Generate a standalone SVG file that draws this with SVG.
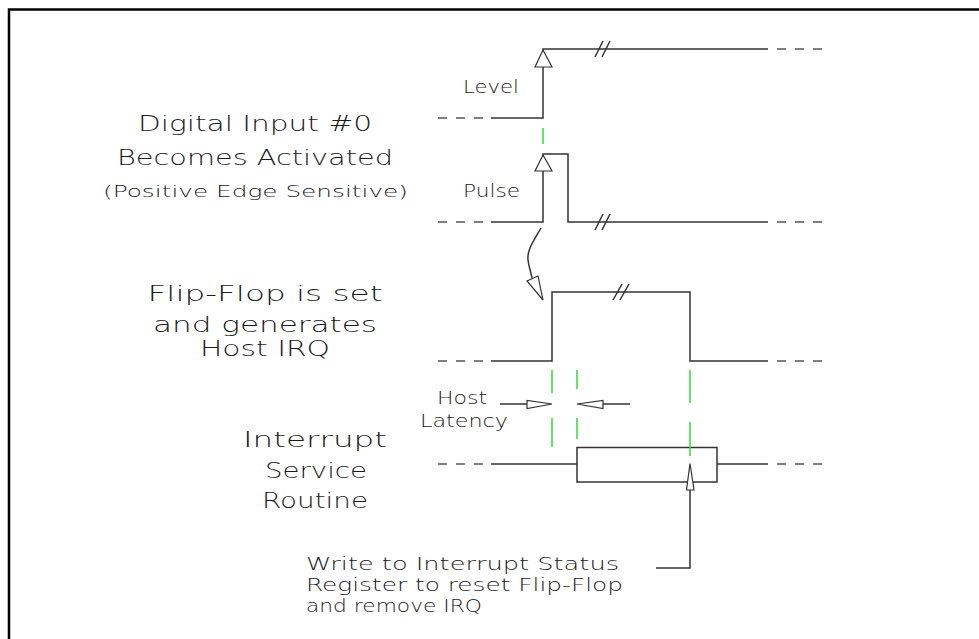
<svg xmlns="http://www.w3.org/2000/svg" width="979" height="639" viewBox="0 0 979 639">
<style>
.w{fill:none;stroke:#333;stroke-width:1.5;stroke-linejoin:miter}
.d{fill:none;stroke:#555;stroke-width:1.5;stroke-dasharray:9 9}
.g{fill:none;stroke:#33dd33;stroke-width:1.5}
.tri{fill:#fff;stroke:#333;stroke-width:1.2}
.t{font-family:"DejaVu Sans","Liberation Sans",sans-serif;font-weight:200;fill:#1a1a1a}
</style>
<rect width="979" height="639" fill="#fff"/>
<path id="border" d="M9,639 V9.5 H979" fill="none" stroke="#000" stroke-width="2.5"/>

<g id="level-wave">
<line class="d" x1="438" y1="118" x2="483" y2="118"/>
<path class="w" d="M491,118 H543 V49 H768"/>
<line class="d" x1="777" y1="49" x2="822" y2="49"/>
<path class="w" d="M595,57 L603,41 M602,57 L610,41"/>
<polygon class="tri" points="543,50 535,67 552,67"/>
</g>

<g id="pulse-wave">
<line class="d" x1="438" y1="222" x2="483" y2="222"/>
<path class="w" d="M491,222 H543 V154 H568 V222 H768"/>
<line class="d" x1="777" y1="222" x2="822" y2="222"/>
<path class="w" d="M595,230 L603,214 M602,230 L610,214"/>
<polygon class="tri" points="543,155 535,171 552,171"/>
</g>

<g id="flipflop-wave">
<line class="d" x1="438" y1="361" x2="483" y2="361"/>
<path class="w" d="M491,361 H552 V292 H690 V361 H768"/>
<line class="d" x1="777" y1="361" x2="822" y2="361"/>
<path class="w" d="M613,300 L622,284 M620,300 L629,284"/>
</g>

<g id="isr-wave">
<line class="d" x1="438" y1="464" x2="483" y2="464"/>
<path class="w" d="M491,464 H577 M717,464 H768"/>
<rect class="w" x="577" y="447.5" width="140" height="34.5"/>
<line class="d" x1="777" y1="464" x2="822" y2="464"/>
</g>

<g id="guides">
<line class="g" x1="543" y1="128" x2="543" y2="144"/>
<path class="g" d="M552,370 V393 M552,418 V447"/>
<path class="g" d="M577,370 V389 M577,418 V439"/>
<path class="g" d="M690,370 V403 M690,422 V456"/>
</g>

<g id="connectors">
<path class="w" d="M541,228 C533,242 527,250 528,260 C529,268 531,272 532,278"/>
<polygon class="tri" points="543,300 527,281 538,276"/>
<line class="w" x1="500" y1="404" x2="527" y2="404"/>
<polygon class="tri" points="527,400.5 527,408.5 552,404"/>
<line class="w" x1="603" y1="404" x2="630" y2="404"/>
<polygon class="tri" points="603,400.5 603,408.5 577,404"/>
<path class="w" d="M656,568 H690 V490"/>
<polygon class="tri" points="690,463.5 686.5,490 694,490"/>
</g>

<g id="label-digital-input">
<text class="t" x="255" y="131" font-size="21" text-anchor="middle" textLength="234" lengthAdjust="spacingAndGlyphs">Digital Input #0</text>
<text class="t" x="255" y="165" font-size="21" text-anchor="middle" textLength="276" lengthAdjust="spacingAndGlyphs">Becomes Activated</text>
<text class="t" x="255.5" y="197" font-size="16" text-anchor="middle" textLength="305" lengthAdjust="spacingAndGlyphs">(Positive Edge Sensitive)</text>
</g>
<g id="label-level"><text class="t" x="463" y="93" font-size="18" textLength="56" lengthAdjust="spacingAndGlyphs">Level</text></g>
<g id="label-pulse"><text class="t" x="463" y="197" font-size="18" textLength="57" lengthAdjust="spacingAndGlyphs">Pulse</text></g>
<g id="label-flipflop">
<text class="t" x="265" y="301" font-size="22" text-anchor="middle" textLength="235" lengthAdjust="spacingAndGlyphs">Flip-Flop is set</text>
<text class="t" x="265" y="332" font-size="22" text-anchor="middle" textLength="224" lengthAdjust="spacingAndGlyphs">and generates</text>
<text class="t" x="265" y="356" font-size="22" text-anchor="middle" textLength="130" lengthAdjust="spacingAndGlyphs">Host IRQ</text>
</g>
<g id="label-host-latency">
<text class="t" x="437" y="404" font-size="18" textLength="50" lengthAdjust="spacingAndGlyphs">Host</text>
<text class="t" x="420" y="427" font-size="18" textLength="88" lengthAdjust="spacingAndGlyphs">Latency</text>
</g>
<g id="label-isr">
<text class="t" x="315" y="447" font-size="22" text-anchor="middle" textLength="144" lengthAdjust="spacingAndGlyphs">Interrupt</text>
<text class="t" x="316" y="478" font-size="22" text-anchor="middle" textLength="102" lengthAdjust="spacingAndGlyphs">Service</text>
<text class="t" x="315" y="508" font-size="22" text-anchor="middle" textLength="106" lengthAdjust="spacingAndGlyphs">Routine</text>
</g>
<g id="label-write">
<text class="t" x="306" y="570" font-size="18" textLength="313" lengthAdjust="spacingAndGlyphs">Write to Interrupt Status</text>
<text class="t" x="306" y="591" font-size="18" textLength="317" lengthAdjust="spacingAndGlyphs">Register to reset Flip-Flop</text>
<text class="t" x="306" y="612" font-size="18" textLength="176" lengthAdjust="spacingAndGlyphs">and remove IRQ</text>
</g>
</svg>
